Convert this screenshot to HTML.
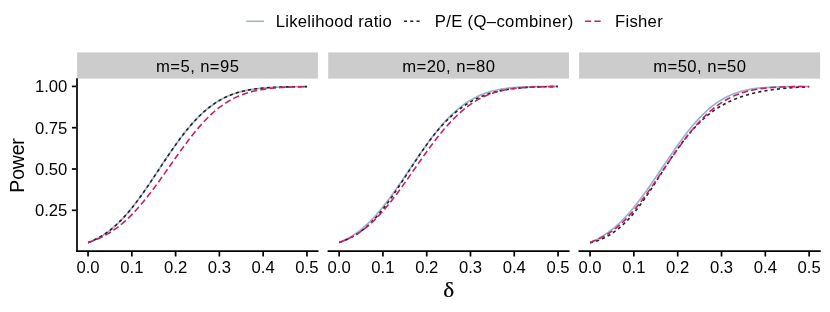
<!DOCTYPE html>
<html><head><meta charset="utf-8"><title>Power curves</title>
<style>
html,body{margin:0;padding:0;background:#fff;}
body{width:830px;height:312px;overflow:hidden;}
svg{display:block;will-change:transform;}
text{font-family:"Liberation Sans",sans-serif;fill:#000;}
.t12{font-size:16.67px;}
.t14{font-size:19.44px;}
.ax{stroke:#000;stroke-width:1.7;fill:none;stroke-linecap:butt;}
.cv{fill:none;stroke-linejoin:round;stroke-linecap:butt;}
</style></head><body>
<svg width="830" height="312" viewBox="0 0 830 312">
<rect x="0" y="0" width="830" height="312" fill="#ffffff"/>
<g id="legend">
<line x1="246.2" y1="21.3" x2="263.9" y2="21.3" stroke="#9fb2c9" stroke-width="1.6"/>
<text class="t12" x="275.7" y="27.3" textLength="116.1">Likelihood ratio</text>
<line x1="403.9" y1="21.3" x2="421.2" y2="21.3" stroke="#222222" stroke-width="1.6" stroke-dasharray="3.15 3.15"/>
<text class="t12" x="434.7" y="27.3" textLength="138.5">P/E (Q–combiner)</text>
<line x1="584.9" y1="21.3" x2="602.2" y2="21.3" stroke="#c6206f" stroke-width="1.6" stroke-dasharray="6.3 3.15"/>
<text class="t12" x="614.9" y="27.3" textLength="47.8">Fisher</text>
</g>
<g id="panel1">
<rect x="77.1" y="52.4" width="240.8" height="26.2" fill="#cccccc"/>
<text class="t12" x="197.50" y="72.05" text-anchor="middle" textLength="82.8">m=5, n=95</text>
<path class="cv" d="M88.05 242.59 L90.23 241.74 L92.42 240.81 L94.61 239.81 L96.80 238.73 L98.99 237.56 L101.18 236.29 L103.37 234.94 L105.56 233.48 L107.75 231.93 L109.94 230.27 L112.13 228.51 L114.31 226.65 L116.50 224.68 L118.69 222.60 L120.88 220.42 L123.07 218.14 L125.26 215.75 L127.45 213.26 L129.64 210.67 L131.83 208.00 L134.02 205.23 L136.21 202.38 L138.39 199.45 L140.58 196.45 L142.77 193.38 L144.96 190.25 L147.15 187.08 L149.34 183.86 L151.53 180.60 L153.72 177.32 L155.91 174.02 L158.10 170.71 L160.29 167.40 L162.47 164.09 L164.66 160.80 L166.85 157.53 L169.04 154.29 L171.23 151.09 L173.42 147.94 L175.61 144.84 L177.80 141.79 L179.99 138.82 L182.18 135.91 L184.37 133.09 L186.55 130.34 L188.74 127.68 L190.93 125.10 L193.12 122.62 L195.31 120.24 L197.50 117.95 L199.69 115.76 L201.88 113.66 L204.07 111.67 L206.26 109.78 L208.45 107.98 L210.63 106.29 L212.82 104.69 L215.01 103.19 L217.20 101.78 L219.39 100.46 L221.58 99.23 L223.77 98.09 L225.96 97.02 L228.15 96.04 L230.34 95.13 L232.53 94.29 L234.71 93.52 L236.90 92.82 L239.09 92.17 L241.28 91.58 L243.47 91.05 L245.66 90.56 L247.85 90.12 L250.04 89.73 L252.23 89.37 L254.42 89.05 L256.61 88.76 L258.79 88.50 L260.98 88.27 L263.17 88.06 L265.36 87.88 L267.55 87.72 L269.74 87.57 L271.93 87.44 L274.12 87.33 L276.31 87.23 L278.50 87.14 L280.69 87.07 L282.87 87.00 L285.06 86.94 L287.25 86.89 L289.44 86.84 L291.63 86.80 L293.82 86.76 L296.01 86.73 L298.20 86.71 L300.39 86.68 L302.58 86.66 L304.77 86.65 L306.95 86.63" stroke="#9fb2c9" stroke-width="1.7"/>
<path class="cv" d="M88.05 242.59 L90.23 241.74 L92.42 240.81 L94.61 239.81 L96.80 238.73 L98.99 237.56 L101.18 236.29 L103.37 234.94 L105.56 233.48 L107.75 231.93 L109.94 230.27 L112.13 228.51 L114.31 226.65 L116.50 224.68 L118.69 222.60 L120.88 220.42 L123.07 218.14 L125.26 215.75 L127.45 213.26 L129.64 210.67 L131.83 208.00 L134.02 205.23 L136.21 202.38 L138.39 199.45 L140.58 196.45 L142.77 193.38 L144.96 190.25 L147.15 187.08 L149.34 183.86 L151.53 180.60 L153.72 177.32 L155.91 174.02 L158.10 170.71 L160.29 167.40 L162.47 164.09 L164.66 160.80 L166.85 157.53 L169.04 154.29 L171.23 151.09 L173.42 147.94 L175.61 144.84 L177.80 141.79 L179.99 138.82 L182.18 135.91 L184.37 133.09 L186.55 130.34 L188.74 127.68 L190.93 125.10 L193.12 122.62 L195.31 120.24 L197.50 117.95 L199.69 115.76 L201.88 113.66 L204.07 111.67 L206.26 109.78 L208.45 107.98 L210.63 106.29 L212.82 104.69 L215.01 103.19 L217.20 101.78 L219.39 100.46 L221.58 99.23 L223.77 98.09 L225.96 97.02 L228.15 96.04 L230.34 95.13 L232.53 94.29 L234.71 93.52 L236.90 92.82 L239.09 92.17 L241.28 91.58 L243.47 91.05 L245.66 90.56 L247.85 90.12 L250.04 89.73 L252.23 89.37 L254.42 89.05 L256.61 88.76 L258.79 88.50 L260.98 88.27 L263.17 88.06 L265.36 87.88 L267.55 87.72 L269.74 87.57 L271.93 87.44 L274.12 87.33 L276.31 87.23 L278.50 87.14 L280.69 87.07 L282.87 87.00 L285.06 86.94 L287.25 86.89 L289.44 86.84 L291.63 86.80 L293.82 86.76 L296.01 86.73 L298.20 86.71 L300.39 86.68 L302.58 86.66 L304.77 86.65 L306.95 86.63" stroke="#222222" stroke-width="1.6" stroke-dasharray="3.15 3.15"/>
<path class="cv" d="M88.05 242.64 L90.23 241.91 L92.42 241.12 L94.61 240.28 L96.80 239.38 L98.99 238.41 L101.18 237.38 L103.37 236.28 L105.56 235.10 L107.75 233.85 L109.94 232.52 L112.13 231.11 L114.31 229.63 L116.50 228.05 L118.69 226.40 L120.88 224.65 L123.07 222.82 L125.26 220.91 L127.45 218.90 L129.64 216.81 L131.83 214.63 L134.02 212.37 L136.21 210.02 L138.39 207.59 L140.58 205.08 L142.77 202.49 L144.96 199.84 L147.15 197.11 L149.34 194.31 L151.53 191.46 L153.72 188.55 L155.91 185.59 L158.10 182.59 L160.29 179.55 L162.47 176.48 L164.66 173.39 L166.85 170.28 L169.04 167.16 L171.23 164.04 L173.42 160.92 L175.61 157.81 L177.80 154.72 L179.99 151.66 L182.18 148.63 L184.37 145.64 L186.55 142.70 L188.74 139.81 L190.93 136.98 L193.12 134.22 L195.31 131.52 L197.50 128.90 L199.69 126.36 L201.88 123.90 L204.07 121.52 L206.26 119.23 L208.45 117.04 L210.63 114.93 L212.82 112.92 L215.01 111.00 L217.20 109.18 L219.39 107.45 L221.58 105.82 L223.77 104.28 L225.96 102.82 L228.15 101.46 L230.34 100.18 L232.53 98.99 L234.71 97.88 L236.90 96.85 L239.09 95.89 L241.28 95.00 L243.47 94.19 L245.66 93.44 L247.85 92.75 L250.04 92.11 L252.23 91.54 L254.42 91.01 L256.61 90.53 L258.79 90.10 L260.98 89.70 L263.17 89.35 L265.36 89.03 L267.55 88.74 L269.74 88.48 L271.93 88.25 L274.12 88.04 L276.31 87.85 L278.50 87.69 L280.69 87.54 L282.87 87.41 L285.06 87.30 L287.25 87.19 L289.44 87.10 L291.63 87.02 L293.82 86.95 L296.01 86.89 L298.20 86.83 L300.39 86.78 L302.58 86.74 L304.77 86.70 L306.95 86.67" stroke="#c6206f" stroke-width="1.6" stroke-dasharray="6.3 3.15"/>
<line class="ax" x1="76.3" y1="251.1" x2="318.5" y2="251.1"/>
<line class="ax" x1="88.05" y1="251.9" x2="88.05" y2="256.5"/>
<text class="t12" x="88.05" y="273.2" text-anchor="middle">0.0</text>
<line class="ax" x1="131.83" y1="251.9" x2="131.83" y2="256.5"/>
<text class="t12" x="131.83" y="273.2" text-anchor="middle">0.1</text>
<line class="ax" x1="175.61" y1="251.9" x2="175.61" y2="256.5"/>
<text class="t12" x="175.61" y="273.2" text-anchor="middle">0.2</text>
<line class="ax" x1="219.39" y1="251.9" x2="219.39" y2="256.5"/>
<text class="t12" x="219.39" y="273.2" text-anchor="middle">0.3</text>
<line class="ax" x1="263.17" y1="251.9" x2="263.17" y2="256.5"/>
<text class="t12" x="263.17" y="273.2" text-anchor="middle">0.4</text>
<line class="ax" x1="306.95" y1="251.9" x2="306.95" y2="256.5"/>
<text class="t12" x="306.95" y="273.2" text-anchor="middle">0.5</text>
</g>
<g id="panel2">
<rect x="328.2" y="52.4" width="240.8" height="26.2" fill="#cccccc"/>
<text class="t12" x="448.60" y="72.05" text-anchor="middle" textLength="92.9">m=20, n=80</text>
<path class="cv" d="M339.15 242.53 L341.33 241.62 L343.52 240.64 L345.71 239.57 L347.90 238.42 L350.09 237.19 L352.28 235.86 L354.47 234.43 L356.66 232.91 L358.85 231.29 L361.04 229.57 L363.23 227.75 L365.41 225.83 L367.60 223.80 L369.79 221.68 L371.98 219.45 L374.17 217.12 L376.36 214.70 L378.55 212.18 L380.74 209.57 L382.93 206.88 L385.12 204.10 L387.31 201.25 L389.49 198.33 L391.68 195.34 L393.87 192.29 L396.06 189.20 L398.25 186.05 L400.44 182.87 L402.63 179.66 L404.82 176.43 L407.01 173.18 L409.20 169.92 L411.39 166.67 L413.57 163.42 L415.76 160.19 L417.95 156.98 L420.14 153.80 L422.33 150.66 L424.52 147.56 L426.71 144.52 L428.90 141.52 L431.09 138.59 L433.28 135.73 L435.47 132.94 L437.65 130.22 L439.84 127.58 L442.03 125.03 L444.22 122.56 L446.41 120.18 L448.60 117.89 L450.79 115.69 L452.98 113.59 L455.17 111.58 L457.36 109.67 L459.55 107.86 L461.73 106.13 L463.92 104.51 L466.11 102.97 L468.30 101.53 L470.49 100.18 L472.68 98.91 L474.87 97.73 L477.06 96.64 L479.25 95.62 L481.44 94.68 L483.63 93.81 L485.81 93.02 L488.00 92.29 L490.19 91.63 L492.38 91.02 L494.57 90.48 L496.76 89.98 L498.95 89.54 L501.14 89.14 L503.33 88.78 L505.52 88.47 L507.71 88.18 L509.89 87.94 L512.08 87.72 L514.27 87.53 L516.46 87.36 L518.65 87.21 L520.84 87.09 L523.03 86.98 L525.22 86.89 L527.41 86.81 L529.60 86.74 L531.79 86.68 L533.97 86.63 L536.16 86.59 L538.35 86.56 L540.54 86.53 L542.73 86.50 L544.92 86.49 L547.11 86.47 L549.30 86.46 L551.49 86.44 L553.68 86.44 L555.87 86.43 L558.05 86.42" stroke="#9fb2c9" stroke-width="1.7"/>
<path class="cv" d="M339.15 242.42 L341.33 241.70 L343.52 240.91 L345.71 240.04 L347.90 239.08 L350.09 238.03 L352.28 236.88 L354.47 235.63 L356.66 234.28 L358.85 232.83 L361.04 231.26 L363.23 229.57 L365.41 227.77 L367.60 225.84 L369.79 223.80 L371.98 221.64 L374.17 219.35 L376.36 216.95 L378.55 214.44 L380.74 211.81 L382.93 209.07 L385.12 206.24 L387.31 203.30 L389.49 200.29 L391.68 197.19 L393.87 194.02 L396.06 190.79 L398.25 187.50 L400.44 184.18 L402.63 180.82 L404.82 177.44 L407.01 174.06 L409.20 170.67 L411.39 167.29 L413.57 163.93 L415.76 160.60 L417.95 157.30 L420.14 154.06 L422.33 150.86 L424.52 147.73 L426.71 144.66 L428.90 141.67 L431.09 138.75 L433.28 135.92 L435.47 133.17 L437.65 130.52 L439.84 127.95 L442.03 125.48 L444.22 123.10 L446.41 120.82 L448.60 118.64 L450.79 116.55 L452.98 114.55 L455.17 112.65 L457.36 110.85 L459.55 109.13 L461.73 107.50 L463.92 105.97 L466.11 104.51 L468.30 103.14 L470.49 101.85 L472.68 100.64 L474.87 99.50 L477.06 98.43 L479.25 97.43 L481.44 96.50 L483.63 95.63 L485.81 94.82 L488.00 94.07 L490.19 93.37 L492.38 92.73 L494.57 92.13 L496.76 91.58 L498.95 91.08 L501.14 90.61 L503.33 90.19 L505.52 89.80 L507.71 89.44 L509.89 89.12 L512.08 88.82 L514.27 88.55 L516.46 88.31 L518.65 88.09 L520.84 87.90 L523.03 87.72 L525.22 87.56 L527.41 87.42 L529.60 87.30 L531.79 87.18 L533.97 87.09 L536.16 87.00 L538.35 86.92 L540.54 86.85 L542.73 86.79 L544.92 86.74 L547.11 86.69 L549.30 86.65 L551.49 86.62 L553.68 86.59 L555.87 86.56 L558.05 86.54" stroke="#222222" stroke-width="1.6" stroke-dasharray="3.15 3.15"/>
<path class="cv" d="M339.15 242.38 L341.33 241.63 L343.52 240.80 L345.71 239.91 L347.90 238.93 L350.09 237.88 L352.28 236.75 L354.47 235.53 L356.66 234.22 L358.85 232.82 L361.04 231.33 L363.23 229.74 L365.41 228.06 L367.60 226.28 L369.79 224.40 L371.98 222.42 L374.17 220.35 L376.36 218.18 L378.55 215.92 L380.74 213.56 L382.93 211.12 L385.12 208.59 L387.31 205.99 L389.49 203.30 L391.68 200.54 L393.87 197.72 L396.06 194.84 L398.25 191.90 L400.44 188.91 L402.63 185.88 L404.82 182.81 L407.01 179.72 L409.20 176.60 L411.39 173.47 L413.57 170.32 L415.76 167.18 L417.95 164.05 L420.14 160.92 L422.33 157.82 L424.52 154.73 L426.71 151.68 L428.90 148.67 L431.09 145.70 L433.28 142.78 L435.47 139.92 L437.65 137.11 L439.84 134.36 L442.03 131.68 L444.22 129.08 L446.41 126.55 L448.60 124.10 L450.79 121.72 L452.98 119.44 L455.17 117.24 L457.36 115.12 L459.55 113.10 L461.73 111.16 L463.92 109.32 L466.11 107.57 L468.30 105.90 L470.49 104.33 L472.68 102.85 L474.87 101.45 L477.06 100.15 L479.25 98.92 L481.44 97.78 L483.63 96.72 L485.81 95.73 L488.00 94.82 L490.19 93.98 L492.38 93.21 L494.57 92.50 L496.76 91.86 L498.95 91.27 L501.14 90.74 L503.33 90.26 L505.52 89.82 L507.71 89.43 L509.89 89.08 L512.08 88.76 L514.27 88.48 L516.46 88.23 L518.65 88.01 L520.84 87.82 L523.03 87.64 L525.22 87.49 L527.41 87.36 L529.60 87.24 L531.79 87.14 L533.97 87.05 L536.16 86.97 L538.35 86.91 L540.54 86.85 L542.73 86.80 L544.92 86.75 L547.11 86.71 L549.30 86.68 L551.49 86.65 L553.68 86.63 L555.87 86.61 L558.05 86.59" stroke="#c6206f" stroke-width="1.6" stroke-dasharray="6.3 3.15"/>
<line class="ax" x1="327.6" y1="251.1" x2="569.6" y2="251.1"/>
<line class="ax" x1="339.15" y1="251.9" x2="339.15" y2="256.5"/>
<text class="t12" x="339.15" y="273.2" text-anchor="middle">0.0</text>
<line class="ax" x1="382.93" y1="251.9" x2="382.93" y2="256.5"/>
<text class="t12" x="382.93" y="273.2" text-anchor="middle">0.1</text>
<line class="ax" x1="426.71" y1="251.9" x2="426.71" y2="256.5"/>
<text class="t12" x="426.71" y="273.2" text-anchor="middle">0.2</text>
<line class="ax" x1="470.49" y1="251.9" x2="470.49" y2="256.5"/>
<text class="t12" x="470.49" y="273.2" text-anchor="middle">0.3</text>
<line class="ax" x1="514.27" y1="251.9" x2="514.27" y2="256.5"/>
<text class="t12" x="514.27" y="273.2" text-anchor="middle">0.4</text>
<line class="ax" x1="558.05" y1="251.9" x2="558.05" y2="256.5"/>
<text class="t12" x="558.05" y="273.2" text-anchor="middle">0.5</text>
</g>
<g id="panel3">
<rect x="579.1" y="52.4" width="241.0" height="26.2" fill="#cccccc"/>
<text class="t12" x="699.60" y="72.05" text-anchor="middle" textLength="92.9">m=50, n=50</text>
<path class="cv" d="M590.05 242.44 L592.25 241.54 L594.44 240.55 L596.63 239.49 L598.82 238.34 L601.01 237.11 L603.20 235.79 L605.39 234.38 L607.58 232.88 L609.77 231.28 L611.96 229.58 L614.15 227.79 L616.35 225.90 L618.54 223.91 L620.73 221.82 L622.92 219.64 L625.11 217.36 L627.30 214.99 L629.49 212.52 L631.68 209.97 L633.87 207.33 L636.06 204.61 L638.25 201.82 L640.45 198.95 L642.64 196.01 L644.83 193.01 L647.02 189.96 L649.21 186.86 L651.40 183.71 L653.59 180.53 L655.78 177.32 L657.97 174.09 L660.16 170.84 L662.35 167.58 L664.55 164.32 L666.74 161.07 L668.93 157.84 L671.12 154.63 L673.31 151.44 L675.50 148.30 L677.69 145.19 L679.88 142.14 L682.07 139.14 L684.26 136.20 L686.45 133.33 L688.65 130.54 L690.84 127.82 L693.03 125.19 L695.22 122.65 L697.41 120.19 L699.60 117.83 L701.79 115.57 L703.98 113.41 L706.17 111.34 L708.36 109.38 L710.55 107.52 L712.75 105.76 L714.94 104.11 L717.13 102.55 L719.32 101.10 L721.51 99.74 L723.70 98.47 L725.89 97.30 L728.08 96.21 L730.27 95.21 L732.46 94.30 L734.65 93.46 L736.85 92.69 L739.04 91.99 L741.23 91.36 L743.42 90.79 L745.61 90.28 L747.80 89.82 L749.99 89.41 L752.18 89.04 L754.37 88.71 L756.56 88.42 L758.75 88.17 L760.95 87.94 L763.14 87.75 L765.33 87.57 L767.52 87.42 L769.71 87.29 L771.90 87.17 L774.09 87.07 L776.28 86.99 L778.47 86.91 L780.66 86.85 L782.85 86.79 L785.05 86.74 L787.24 86.70 L789.43 86.66 L791.62 86.63 L793.81 86.61 L796.00 86.59 L798.19 86.57 L800.38 86.55 L802.57 86.54 L804.76 86.52 L806.95 86.51 L809.15 86.51" stroke="#9fb2c9" stroke-width="1.7"/>
<path class="cv" d="M590.05 242.88 L592.25 242.30 L594.44 241.66 L596.63 240.94 L598.82 240.14 L601.01 239.26 L603.20 238.29 L605.39 237.23 L607.58 236.07 L609.77 234.80 L611.96 233.42 L614.15 231.93 L616.35 230.33 L618.54 228.60 L620.73 226.75 L622.92 224.77 L625.11 222.67 L627.30 220.44 L629.49 218.09 L631.68 215.61 L633.87 213.01 L636.06 210.30 L638.25 207.48 L640.45 204.56 L642.64 201.54 L644.83 198.43 L647.02 195.25 L649.21 192.00 L651.40 188.69 L653.59 185.34 L655.78 181.95 L657.97 178.55 L660.16 175.13 L662.35 171.72 L664.55 168.31 L666.74 164.94 L668.93 161.60 L671.12 158.30 L673.31 155.06 L675.50 151.88 L677.69 148.76 L679.88 145.73 L682.07 142.78 L684.26 139.91 L686.45 137.14 L688.65 134.46 L690.84 131.87 L693.03 129.39 L695.22 127.00 L697.41 124.71 L699.60 122.52 L701.79 120.43 L703.98 118.44 L706.17 116.54 L708.36 114.73 L710.55 113.02 L712.75 111.39 L714.94 109.85 L717.13 108.38 L719.32 107.00 L721.51 105.69 L723.70 104.46 L725.89 103.29 L728.08 102.19 L730.27 101.15 L732.46 100.17 L734.65 99.25 L736.85 98.38 L739.04 97.56 L741.23 96.79 L743.42 96.06 L745.61 95.38 L747.80 94.73 L749.99 94.13 L752.18 93.56 L754.37 93.03 L756.56 92.53 L758.75 92.05 L760.95 91.61 L763.14 91.20 L765.33 90.81 L767.52 90.44 L769.71 90.10 L771.90 89.78 L774.09 89.48 L776.28 89.21 L778.47 88.95 L780.66 88.70 L782.85 88.48 L785.05 88.27 L787.24 88.08 L789.43 87.90 L791.62 87.74 L793.81 87.59 L796.00 87.45 L798.19 87.32 L800.38 87.21 L802.57 87.11 L804.76 87.01 L806.95 86.93 L809.15 86.86" stroke="#222222" stroke-width="1.6" stroke-dasharray="3.15 3.15"/>
<path class="cv" d="M590.05 242.39 L592.25 241.62 L594.44 240.78 L596.63 239.87 L598.82 238.88 L601.01 237.80 L603.20 236.65 L605.39 235.40 L607.58 234.07 L609.77 232.64 L611.96 231.12 L614.15 229.49 L616.35 227.77 L618.54 225.94 L620.73 224.01 L622.92 221.98 L625.11 219.84 L627.30 217.61 L629.49 215.27 L631.68 212.84 L633.87 210.31 L636.06 207.69 L638.25 204.99 L640.45 202.21 L642.64 199.35 L644.83 196.41 L647.02 193.42 L649.21 190.37 L651.40 187.27 L653.59 184.12 L655.78 180.94 L657.97 177.74 L660.16 174.51 L662.35 171.27 L664.55 168.03 L666.74 164.80 L668.93 161.57 L671.12 158.37 L673.31 155.20 L675.50 152.06 L677.69 148.96 L679.88 145.91 L682.07 142.91 L684.26 139.98 L686.45 137.10 L688.65 134.30 L690.84 131.58 L693.03 128.93 L695.22 126.36 L697.41 123.88 L699.60 121.49 L701.79 119.19 L703.98 116.98 L706.17 114.86 L708.36 112.84 L710.55 110.90 L712.75 109.07 L714.94 107.32 L717.13 105.67 L719.32 104.11 L721.51 102.65 L723.70 101.26 L725.89 99.97 L728.08 98.76 L730.27 97.63 L732.46 96.58 L734.65 95.61 L736.85 94.71 L739.04 93.87 L741.23 93.11 L743.42 92.41 L745.61 91.76 L747.80 91.18 L749.99 90.65 L752.18 90.16 L754.37 89.73 L756.56 89.33 L758.75 88.98 L760.95 88.66 L763.14 88.38 L765.33 88.13 L767.52 87.90 L769.71 87.71 L771.90 87.53 L774.09 87.38 L776.28 87.24 L778.47 87.12 L780.66 87.02 L782.85 86.93 L785.05 86.86 L787.24 86.79 L789.43 86.73 L791.62 86.68 L793.81 86.64 L796.00 86.60 L798.19 86.57 L800.38 86.55 L802.57 86.52 L804.76 86.51 L806.95 86.49 L809.15 86.48" stroke="#c6206f" stroke-width="1.6" stroke-dasharray="6.3 3.15"/>
<line class="ax" x1="578.5" y1="251.1" x2="820.7" y2="251.1"/>
<line class="ax" x1="590.05" y1="251.9" x2="590.05" y2="256.5"/>
<text class="t12" x="590.05" y="273.2" text-anchor="middle">0.0</text>
<line class="ax" x1="633.87" y1="251.9" x2="633.87" y2="256.5"/>
<text class="t12" x="633.87" y="273.2" text-anchor="middle">0.1</text>
<line class="ax" x1="677.69" y1="251.9" x2="677.69" y2="256.5"/>
<text class="t12" x="677.69" y="273.2" text-anchor="middle">0.2</text>
<line class="ax" x1="721.51" y1="251.9" x2="721.51" y2="256.5"/>
<text class="t12" x="721.51" y="273.2" text-anchor="middle">0.3</text>
<line class="ax" x1="765.33" y1="251.9" x2="765.33" y2="256.5"/>
<text class="t12" x="765.33" y="273.2" text-anchor="middle">0.4</text>
<line class="ax" x1="809.15" y1="251.9" x2="809.15" y2="256.5"/>
<text class="t12" x="809.15" y="273.2" text-anchor="middle">0.5</text>
</g>
<g id="yaxis">
<line class="ax" x1="77.0" y1="78.2" x2="77.0" y2="251.9"/>
<line class="ax" x1="71.9" y1="210.30" x2="76.2" y2="210.30"/>
<text class="t12" x="67.3" y="216.25" text-anchor="end">0.25</text>
<line class="ax" x1="71.9" y1="169.00" x2="76.2" y2="169.00"/>
<text class="t12" x="67.3" y="174.95" text-anchor="end">0.50</text>
<line class="ax" x1="71.9" y1="127.70" x2="76.2" y2="127.70"/>
<text class="t12" x="67.3" y="133.65" text-anchor="end">0.75</text>
<line class="ax" x1="71.9" y1="86.40" x2="76.2" y2="86.40"/>
<text class="t12" x="67.3" y="92.35" text-anchor="end">1.00</text>
</g>
<text class="t14" transform="translate(24.3 165.4) rotate(-90)" text-anchor="middle" textLength="54.5">Power</text>
<text transform="translate(448.6 297.4) scale(1.1 1)" x="0" y="0" text-anchor="middle" stroke="#000" stroke-width="0.25" style="font-family:'Liberation Serif',serif;font-size:21px;">δ</text>
</svg></body></html>
